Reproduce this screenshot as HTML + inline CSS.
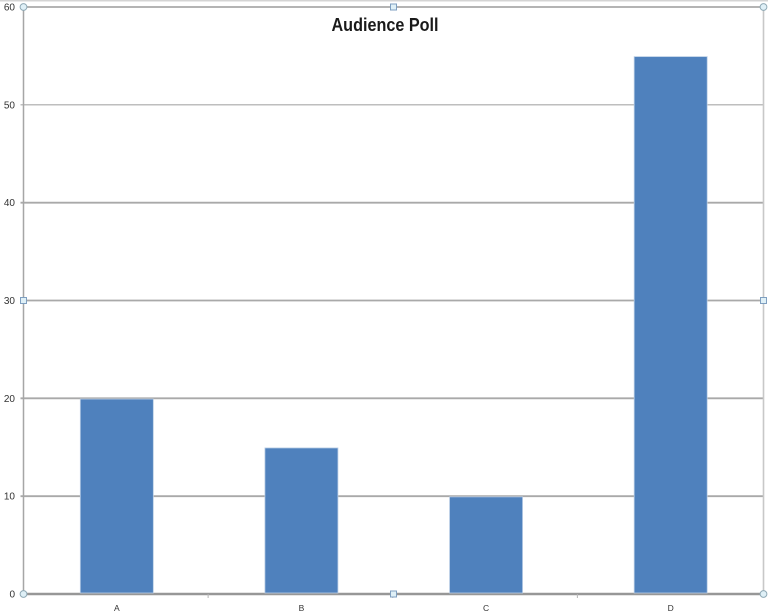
<!DOCTYPE html>
<html lang="en">
<head>
<meta charset="utf-8">
<title>Audience Poll</title>
<style>
html,body{margin:0;padding:0;background:#fff;width:768px;height:614px;overflow:hidden}
svg{display:block;filter:blur(0.35px)}
text{font-family:"Liberation Sans",sans-serif}
</style>
</head>
<body>
<svg id="chart" width="768" height="614" viewBox="0 0 768 614" xmlns="http://www.w3.org/2000/svg">
  <rect x="0" y="0" width="768" height="614" fill="#ffffff"/>
  <rect x="0" y="0" width="768" height="1.5" fill="#d4d4d4"/>
  <text x="385" y="31" text-anchor="middle" font-size="18" font-weight="bold" fill="#1a1a1a" textLength="107" lengthAdjust="spacingAndGlyphs">Audience Poll</text>
  <g id="grid"></g>
  <g id="bars"></g>
  <g id="axes"></g>
  <g id="handles"></g>
</svg>
<script>
const categories = ['A', 'B', 'C', 'D'];
const votes = [20, 15, 10, 55];
const yTicks = [0, 10, 20, 30, 40, 50, 60];
const yMax = 60;

const NS = 'http://www.w3.org/2000/svg';
const plotLeft = 23.5, plotRight = 763.5, plotTop = 7, plotBottom = 594;
const bandLeft = 24.5, bandRight = 763;
const barWidth = 73;
const barTopInset = 0.7;

function yScale(v) { return plotBottom - (v / yMax) * (plotBottom - plotTop); }
function bandWidth() { return (bandRight - bandLeft) / categories.length; }
function xCenter(i) { return bandLeft + bandWidth() * (i + 0.5); }
function make(tag, attrs, parent) {
  const el = document.createElementNS(NS, tag);
  for (const k in attrs) el.setAttribute(k, attrs[k]);
  parent.appendChild(el);
  return el;
}

const grid = document.getElementById('grid');
const bars = document.getElementById('bars');
const axes = document.getElementById('axes');
const handles = document.getElementById('handles');

yTicks.forEach(function (t) {
  const y = yScale(t);
  const isBase = t === 0;
  const line = make('line', { x1: plotLeft - 3, x2: plotRight, y1: y, y2: y, stroke: isBase ? '#979797' : '#a9a9a9', 'stroke-width': isBase ? 2.4 : (t === 50 ? 1.2 : 1.8) }, grid);
  
  
  const label = make('text', { x: 15, y: y + 3.5, 'text-anchor': 'end', 'font-size': 10, fill: '#333333' }, axes);
  label.textContent = t;
  
  
});

const yAxis = make('line', { x1: plotLeft, x2: plotLeft, y1: plotTop, y2: plotBottom, stroke: '#a6a6a6', 'stroke-width': 1.5 }, axes);



const rightEdge = make('line', { x1: plotRight, x2: plotRight, y1: plotTop, y2: plotBottom, stroke: '#c8c8c8', 'stroke-width': 1.6 }, axes);



categories.forEach(function (c, i) {
  const top = yScale(votes[i]) + barTopInset;
  const x = xCenter(i) - barWidth / 2;
  const bar = make('rect', { x: x, y: top, width: barWidth, height: plotBottom - top - 1, fill: '#4f81bd', stroke: '#b9cde5', 'stroke-width': 0.8 }, bars);
  
  
  const label = make('text', { x: xCenter(i), y: 611, 'text-anchor': 'middle', 'font-size': 8.5, fill: '#333333' }, axes);
  label.textContent = c;
  
  
  if (i > 0) {
    const tx = bandLeft + bandWidth() * i - 1;
    const tick = make('line', { x1: tx, x2: tx, y1: plotBottom, y2: plotBottom + 4, stroke: '#b5b5b5', 'stroke-width': 1 }, axes);
    
    
  }
});

const cx = (plotLeft + plotRight) / 2;
const cy = yScale(yMax / 2);
[[plotLeft, plotTop, 'top-left'], [plotRight, plotTop, 'top-right'], [plotLeft, plotBottom, 'bottom-left'], [plotRight, plotBottom, 'bottom-right']].forEach(function (h) {
  const dot = make('circle', { cx: h[0], cy: h[1], r: 3.4, fill: '#dff0f7', stroke: '#8fa9b5', 'stroke-width': 1 }, handles);
  
  
});
[[cx, plotTop, 'top'], [cx, plotBottom, 'bottom'], [plotLeft, cy, 'left'], [plotRight, cy, 'right']].forEach(function (h) {
  const sq = make('rect', { x: h[0] - 3, y: h[1] - 3, width: 6, height: 6, fill: '#dff0f7', stroke: '#7f9fc0', 'stroke-width': 1 }, handles);
  
  
});
</script>
</body>
</html>
